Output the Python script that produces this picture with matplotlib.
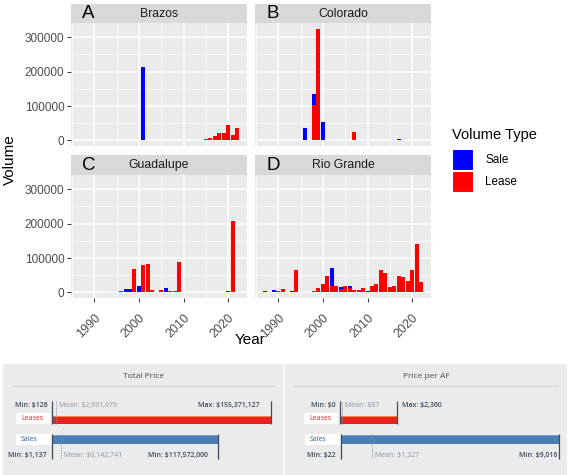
import matplotlib
matplotlib.use("Agg")
import matplotlib.pyplot as plt
from matplotlib.patches import Rectangle

plt.rcParams['font.family'] = ['Liberation Sans', 'DejaVu Sans']

W, H = 570, 475

anos = list(range(1987, 2023))

# volumes por ano (1987 ... 2022), lease embaixo, sale empilhado em cima
brazos_lease = [0, 0, 0, 0, 0, 0, 0, 0, 0, 0,
                0, 2500, 0, 1500, 0, 0, 0, 0, 0, 0,
                0, 0, 0, 0, 0, 0, 0, 0, 5000, 8000,
                12000, 21000, 21000, 45000, 17000, 35000]
brazos_sale = [0, 0, 0, 0, 0, 0, 0, 0, 0, 0,
               0, 0, 0, 0, 213000, 0, 0, 0, 0, 0,
               0, 0, 0, 0, 0, 2000, 0, 0, 0, 0,
               0, 0, 0, 0, 0, 0]

colorado_lease = [0, 1500, 0, 0, 0, 0, 0, 0, 0, 0,
                  0, 102000, 325000, 0, 0, 0, 600, 0, 0, 0,
                  23000, 0, 0, 0, 800, 1000, 1000, 1200, 800, 1000,
                  0, 1000, 1000, 1500, 1000, 800]
colorado_sale = [0, 0, 0, 0, 0, 0, 0, 0, 0, 35000,
                 0, 32000, 0, 54000, 0, 1500, 1500, 1500, 1000, 0,
                 0, 0, 0, 0, 1500, 0, 0, 0, 0, 0,
                 3500, 1500, 1000, 0, 0, 0]

guadalupe_lease = [0, 0, 0, 0, 0, 0, 1500, 0, 0, 5000,
                   2000, 0, 69000, 0, 80000, 84000, 8000, 0, 6000, 0,
                   3000, 4000, 89000, 1000, 1000, 1500, 1000, 1500, 1000, 1000,
                   1500, 1000, 1000, 1000, 209000, 1500]
guadalupe_sale = [0, 0, 0, 0, 0, 0, 0, 0, 0, 0,
                  7000, 11000, 0, 19000, 0, 0, 0, 0, 0, 12000,
                  1500, 0, 0, 0, 1500, 0, 1500, 0, 0, 1500,
                  0, 0, 0, 2000, 0, 0]

rio_lease = [0, 0, 0, 4000, 9000, 0, 2000, 66000, 0, 800,
             800, 5000, 12500, 24000, 47000, 20000, 17500, 9000, 17500, 13000,
             6000, 6000, 12500, 1000, 17500, 25000, 64000, 56000, 15500, 19000,
             49000, 45000, 34000, 65000, 141000, 29000]
rio_sale = [3500, 0, 8000, 0, 0, 0, 2000, 0, 2500, 0,
            0, 0, 0, 0, 0, 51000, 0, 5500, 0, 6000,
            0, 0, 0, 4000, 0, 0, 0, 0, 0, 0,
            0, 0, 0, 0, 0, 0]

rios = ["Brazos", "Colorado", "Guadalupe", "Rio Grande"]
letras = ["A", "B", "C", "D"]
leases = [brazos_lease, colorado_lease, guadalupe_lease, rio_lease]
sales = [brazos_sale, colorado_sale, guadalupe_sale, rio_sale]

x_ticks = [1990, 2000, 2010, 2020]
y_ticks = [0, 100000, 200000, 300000]

# resumo de precos (infografico de baixo)
total_lease = [126, 2931679, 155371127]      # min, media, max
total_sale = [1137, 6142741, 117572000]
af_lease = [0, 87, 2360]
af_sale = [22, 1327, 9016]
total_textos = ["Min: $126", "Mean: $2,931,679", "Max: $155,371,127",
                "Min: $1,137", "Mean: $6,142,741", "Min: $117,572,000"]
af_textos = ["Min: $0", "Mean: $87", "Max: $2,360",
             "Min: $22", "Mean: $1,327", "Min: $9,016"]

fig = plt.figure(figsize=(W / 100, H / 100), dpi=100)


def px_axes(x0, y0, x1, y1):
    return fig.add_axes([x0 / W, 1 - y1 / H, (x1 - x0) / W, (y1 - y0) / H])


paineis = [(71, 23, 247, 146), (255, 23, 431, 146),
           (71, 175, 247, 298), (255, 175, 431, 298)]
faixas = [(71, 4, 247, 23), (255, 4, 431, 23),
          (71, 155, 247, 175), (255, 155, 431, 175)]

for i in range(4):
    ax = px_axes(*paineis[i])
    ax.set_facecolor('#EBEBEB')
    ax.bar(anos, leases[i], width=0.9, color='#FF0000', zorder=3)
    ax.bar(anos, sales[i], bottom=leases[i], width=0.9, color='#0000FF', zorder=3)
    ax.set_xlim(1984.75, 2024.25)
    ax.set_ylim(-16250, 341250)
    ax.set_xticks(x_ticks)
    ax.set_xticks([1985, 1995, 2005, 2015], minor=True)
    ax.set_yticks(y_ticks)
    ax.set_yticks([50000, 150000, 250000], minor=True)
    ax.grid(which='major', color='white', lw=1.1, zorder=1)
    ax.grid(which='minor', color='white', lw=0.55, zorder=1)
    for s in ax.spines.values():
        s.set_visible(False)
    ax.tick_params(which='major', color='#333333', length=2.8, width=0.7,
                   labelsize=8.5, labelcolor='#4D4D4D', pad=2)
    ax.tick_params(which='minor', length=0)
    if i % 2 == 0:
        ax.set_yticklabels([str(v) for v in y_ticks])
    else:
        ax.tick_params(axis='y', which='major', length=0, labelleft=False)
    if i >= 2:
        ax.set_xticklabels([str(v) for v in x_ticks], rotation=45,
                           ha='right', va='top', rotation_mode='anchor', size=9)
        ax.tick_params(axis='x', pad=7)
    else:
        ax.tick_params(axis='x', which='major', length=0, labelbottom=False)

    st = px_axes(*faixas[i])
    st.set_facecolor('#D9D9D9')
    st.set_xticks([])
    st.set_yticks([])
    for s in st.spines.values():
        s.set_visible(False)
    st.text(0.5, 0.48, rios[i], ha='center', va='center', size=8.8,
            color='#1A1A1A', transform=st.transAxes)
    st.text(0.065, 0.48, letras[i], ha='left', va='center', size=13.5,
            color='black', transform=st.transAxes)

fig.text(10 / W, 1 - 160 / H, 'Volume', rotation=90, ha='center', va='center', size=11)
fig.text(250 / W, 1 - 340 / H, 'Year', ha='center', va='center', size=11)

# legenda
fig.text(452 / W, 1 - 135 / H, 'Volume Type', ha='left', va='center', size=10.5)
for k, (cor, nome) in enumerate([('#0000FF', 'Sale'), ('#FF0000', 'Lease')]):
    y0 = 149 + k * 22
    fig.patches.append(Rectangle((452 / W, 1 - (y0 + 21) / H), 21 / W, 21 / H,
                                 facecolor=cor, edgecolor='white', lw=0.8,
                                 transform=fig.transFigure, figure=fig))
    fig.text(485 / W, 1 - (y0 + 11) / H, nome, ha='left', va='center', size=8.5)

# fundo do infografico
fig.patches.append(Rectangle((3 / W, 0), 564 / W, 1 - 364 / H, facecolor='#EBEBEB',
                             edgecolor='none', transform=fig.transFigure, figure=fig,
                             zorder=-5))
fig.lines.append(plt.Line2D([284 / W, 284 / W], [0, 1 - 364 / H], color='#F7F7F7',
                            lw=1.5, transform=fig.transFigure, zorder=-4))

fonte_info = ['Open Sans', 'DejaVu Sans']
cor_escura = '#3D4B5C'
cor_media = '#8895A2'
tam = 5.0


def rotulo(ax, x, y, txt, dx, ha, cor, peso='normal'):
    ax.annotate(txt, (x, y), xytext=(dx * 0.72, 0), textcoords='offset points',
                ha=ha, va='center', size=tam, color=cor, family=fonte_info,
                fontweight=peso)


def painel_preco(x0, x1, px_zero, px_max, titulo, lease, sale, textos, lado_max, dx_max2):
    ax = px_axes(x0, 366, x1, 473)
    ax.patch.set_alpha(0)
    vmax = max(lease[2], sale[2])
    s = vmax / (px_max - px_zero)
    xa, xb = -(px_zero - x0) * s, vmax + (x1 - px_max) * s
    ax.set_xlim(xa, xb)
    ax.set_ylim(473, 366)
    ax.axis('off')

    ax.text((xa + xb) / 2, 377, titulo, ha='center', va='center', size=6,
            color='#4A4A4A', family=fonte_info)
    ax.plot([xa + 8 * s, xb - 8 * s], [386, 386], color='#D6D6D6', lw=0.8)

    # leases
    ax.barh(420, lease[2] - lease[0], left=lease[0], height=8, color='#E8231F')
    ax.plot([lease[0], lease[2]], [416.2, 416.2], color='#F0A040', lw=0.6)
    ax.vlines([lease[0], lease[2]], 401, 424, color=cor_escura, lw=0.9)
    ax.vlines(lease[1], 401, 424, color=cor_media, lw=0.6, linestyles=(0, (1.5, 1.2)))
    ax.add_patch(Rectangle((lease[0] - 36 * s, 413), 34 * s, 11, facecolor='white',
                           edgecolor='none'))
    ax.text(lease[0] - 31 * s, 418.5, 'Leases', ha='left', va='center', size=tam,
            color='#E52421', family=fonte_info)
    rotulo(ax, lease[0], 405, textos[0], -4, 'right', cor_escura, 'semibold')
    rotulo(ax, lease[1], 405, textos[1], 3, 'left', cor_media)
    if lado_max == 'left':
        rotulo(ax, lease[2], 405, textos[2], -11, 'right', cor_escura, 'semibold')
    else:
        rotulo(ax, lease[2], 405, textos[2], 5, 'left', cor_escura, 'semibold')

    # sales
    ax.barh(439.5, sale[2] - sale[0], left=sale[0], height=9, color='#4B7FB6')
    ax.plot([sale[0], sale[2]], [435.2, 435.2], color='#8FB2D6', lw=0.5)
    ax.vlines([sale[0], sale[2]], 434, 459, color=cor_escura, lw=0.9)
    ax.vlines(sale[1], 434, 459, color=cor_media, lw=0.6, linestyles=(0, (1.5, 1.2)))
    ax.add_patch(Rectangle((sale[0] - 36 * s, 434), 35 * s, 11, facecolor='white',
                           edgecolor='none'))
    ax.text(sale[0] - 31 * s, 439.5, 'Sales', ha='left', va='center', size=tam,
            color='#2B5F9E', family=fonte_info)
    rotulo(ax, sale[0], 455, textos[3], -5, 'right', cor_escura, 'semibold')
    rotulo(ax, sale[1], 455, textos[4], 3, 'left', cor_media)
    rotulo(ax, sale[2], 455, textos[5], dx_max2, 'right', cor_escura, 'semibold')


painel_preco(5, 282, 52, 271, 'Total Price', total_lease, total_sale, total_textos, 'left', -10)
painel_preco(287, 566, 340, 559, 'Price per AF', af_lease, af_sale, af_textos, 'right', -2)

fig.savefig('out.png', dpi=100)
